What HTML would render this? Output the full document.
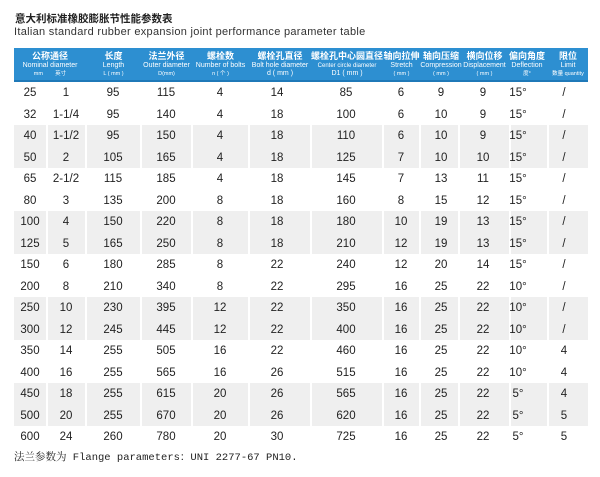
<!DOCTYPE html>
<html><head><meta charset="utf-8"><style>
body{margin:0;width:600px;height:477px;background:#fff;position:relative;overflow:hidden;font-family:"Liberation Sans","Noto Sans CJK SC",sans-serif;color:#222}
.a{position:absolute}
.t1{left:15px;top:13px;font-size:10.5px;font-weight:bold;color:#222;white-space:nowrap;line-height:12px}
.t2{left:14px;top:26px;font-size:11px;color:#333;letter-spacing:0.3px;white-space:nowrap;line-height:13px}
.hd{left:14px;top:48px;width:574px;height:34px;background:#2d8fd1;border-bottom:2px solid #1f79b8;box-sizing:border-box}
.hc{position:absolute;top:51px;text-align:center;color:#fff;line-height:1;white-space:nowrap}
.hc .c{font-size:9px;font-weight:bold;display:block;margin-bottom:1px;line-height:10px}
.hc .e{font-size:7px;display:block;line-height:8px}
.hc .s{font-size:5.5px;display:block;line-height:8px}
.g{position:absolute;left:14px;width:574px;background:#efefef}
.sep{position:absolute;width:2px;background:#fff}
.r{position:absolute;font-size:11.5px;text-align:center;white-space:nowrap}
.ft{left:14px;top:449px;font-size:10.5px;font-family:"Liberation Mono","Noto Serif CJK SC",monospace;color:#222;white-space:nowrap}
</style></head><body>
<div class="a t1">意大利标准橡胶膨胀节性能参数表</div>
<div class="a t2">Italian standard rubber expansion joint performance parameter table</div>
<div class="a hd"></div>
<div class="hc" style="left:14px;width:72px"><span class="c">公称通径</span><span class="e">Nominal diameter</span><span class="s">mm &nbsp;&nbsp;&nbsp;&nbsp;&nbsp;&nbsp; 英寸</span></div>
<div class="hc" style="left:86px;width:55px"><span class="c">长度</span><span class="e">Length</span><span class="s">L ( mm )</span></div>
<div class="hc" style="left:141px;width:51px"><span class="c">法兰外径</span><span class="e">Outer diameter</span><span class="s">D(mm)</span></div>
<div class="hc" style="left:192px;width:57px"><span class="c">螺栓数</span><span class="e">Number of bolts</span><span class="s">n ( 个 )</span></div>
<div class="hc" style="left:249px;width:62px"><span class="c">螺栓孔直径</span><span class="e">Bolt hole diameter</span><span class="s" style="font-size:7px">d ( mm )</span></div>
<div class="hc" style="left:311px;width:72px"><span class="c">螺栓孔中心圆直径</span><span class="e" style="font-size:6px">Center circle diameter</span><span class="s" style="font-size:7px">D1 ( mm )</span></div>
<div class="hc" style="left:383px;width:37px"><span class="c">轴向拉伸</span><span class="e">Stretch</span><span class="s">( mm )</span></div>
<div class="hc" style="left:420px;width:42px"><span class="c">轴向压缩</span><span class="e">Compression</span><span class="s">( mm )</span></div>
<div class="hc" style="left:462px;width:45px"><span class="c">横向位移</span><span class="e">Displacement</span><span class="s">( mm )</span></div>
<div class="hc" style="left:505px;width:44px"><span class="c">偏向角度</span><span class="e">Deflection</span><span class="s">度°</span></div>
<div class="hc" style="left:548px;width:40px"><span class="c">限位</span><span class="e">Limit</span><span class="s">数量 quantity</span></div>
<div id="body"></div>
<div class="a ft">法兰参数为 Flange parameters：UNI 2277-67 PN10.</div>
<script>
var rows=[
["25","1","95","115","4","14","85","6","9","9","15°","/"],
["32","1-1/4","95","140","4","18","100","6","10","9","15°","/"],
["40","1-1/2","95","150","4","18","110","6","10","9","15°","/"],
["50","2","105","165","4","18","125","7","10","10","15°","/"],
["65","2-1/2","115","185","4","18","145","7","13","11","15°","/"],
["80","3","135","200","8","18","160","8","15","12","15°","/"],
["100","4","150","220","8","18","180","10","19","13","15°","/"],
["125","5","165","250","8","18","210","12","19","13","15°","/"],
["150","6","180","285","8","22","240","12","20","14","15°","/"],
["200","8","210","340","8","22","295","16","25","22","10°","/"],
["250","10","230","395","12","22","350","16","25","22","10°","/"],
["300","12","245","445","12","22","400","16","25","22","10°","/"],
["350","14","255","505","16","22","460","16","25","22","10°","4"],
["400","16","255","565","16","26","515","16","25","22","10°","4"],
["450","18","255","615","20","26","565","16","25","22","5°","4"],
["500","20","255","670","20","26","620","16","25","22","5°","5"],
["600","24","260","780","20","30","725","16","25","22","5°","5"]];
var cx=[30,66,113,166,220,277,346,401,441,483,518,564];
var seps=[46,85,140,191,248,310,382,419,458,509,547];
var y0=82,rh=21.5,s="";
for(var p=1;p<8;p+=2){var y=y0+2*rh*p; s+='<div class="g" style="top:'+y+'px;height:'+(2*rh)+'px"></div>';
 for(var k=0;k<seps.length;k++)s+='<div class="sep" style="left:'+seps[k]+'px;top:'+y+'px;height:'+(2*rh)+'px"></div>';}
for(var i=0;i<rows.length;i++){var y=y0+i*rh+5;
 for(var j=0;j<12;j++)s+='<div class="r" style="left:'+(cx[j]-30)+'px;width:60px;top:'+y+'px">'+rows[i][j]+'</div>';}
document.getElementById('body').innerHTML=s;
</script>
</body></html>
